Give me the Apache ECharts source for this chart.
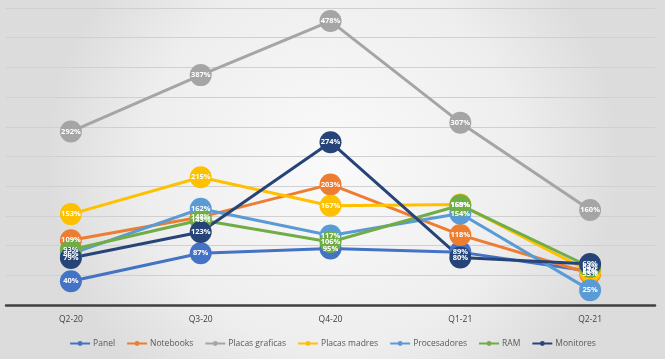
<!DOCTYPE html>
<html>
<head>
<meta charset="utf-8">
<script src="https://cdn.jsdelivr.net/npm/echarts@6/dist/echarts.min.js"></script>
<style>
html,body{margin:0;padding:0;}
#c{width:665px;height:359px;}
</style>
</head>
<body>
<div id="c"></div>
<script>
const categories = ['Q2-20','Q3-20','Q4-20','Q1-21','Q2-21'];
const panel = [40, 87, 95, 89, 57];
const notebooks = [109, 148, 203, 118, 53];
const placasGraficas = [292, 387, 478, 307, 160];
const placasMadres = [153, 215, 167, 169, 56];
const procesadores = [86, 162, 117, 154, 25];
const ram = [93, 143, 106, 168, 64];
const monitores = [79, 123, 274, 80, 69];

const seriesNames = ['Panel','Notebooks','Placas graficas','Placas madres','Procesadores','RAM','Monitores'];
const seriesData = [panel, notebooks, placasGraficas, placasMadres, procesadores, ram, monitores];
const colors = ['#4472C4','#ED7D31','#A5A5A5','#FFC000','#5B9BD5','#70AD47','#264478'];

const chart = echarts.init(document.getElementById('c'));
chart.setOption({
  backgroundColor: {
    type: 'radial', x: 0.5, y: 0.45, r: 0.8,
    colorStops: [{offset: 0, color: '#fafafa'}, {offset: 0.65, color: '#eeeeee'}, {offset: 1, color: '#dcdcdc'}]
  },
  color: colors,
  animation: false,
  grid: {left: 6, right: 10, top: 8, bottom: 54},
  legend: {
    top: 334,
    left: 'center',
    width: 660,
    itemWidth: 20,
    itemHeight: 6,
    itemGap: 11,
    textStyle: {fontSize: 8.5, color: '#595959', fontFamily: 'Open Sans', padding: [0, 0, 0, -2]},
    data: seriesNames
  },
  xAxis: {
    type: 'category',
    data: categories,
    boundaryGap: true,
    axisLine: {lineStyle: {color: '#404040', width: 2.5}},
    axisTick: {show: false},
    axisLabel: {fontSize: 8.5, color: '#404040', margin: 10, fontFamily: 'Open Sans'}
  },
  yAxis: {
    type: 'value',
    min: 0, max: 500, interval: 50,
    axisLabel: {show: false},
    axisLine: {show: false},
    axisTick: {show: false},
    splitLine: {lineStyle: {color: '#d0d0d0', width: 1}}
  },
  series: seriesNames.map((n, i) => ({
    name: n,
    type: 'line',
    data: seriesData[i],
    symbol: 'circle',
    symbolSize: 22,
    lineStyle: {width: 3, color: colors[i]},
    itemStyle: {color: colors[i]},
    label: {
      show: true,
      position: 'inside',
      formatter: '{c}%',
      color: '#ffffff',
      fontSize: 7.5,
      fontWeight: 'bold',
      fontFamily: 'Open Sans'
    }
  }))
});
</script>
</body>
</html>
